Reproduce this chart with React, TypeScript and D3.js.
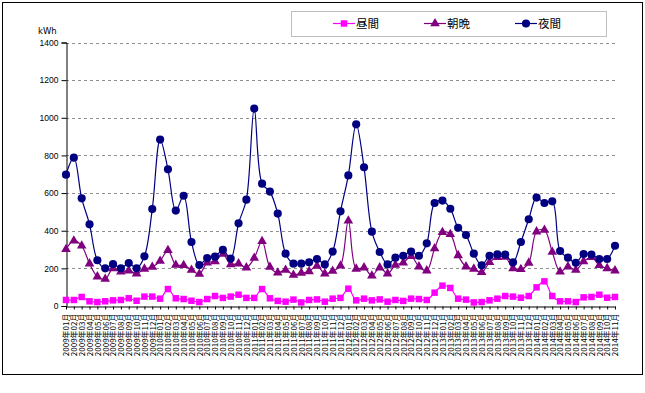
import React, { useEffect, useRef } from 'react';
import * as d3 from 'd3';

// monthly kWh, 2009-01 .. 2014-11
const years = ['2009', '2010', '2011', '2012', '2013', '2014'];
const monthNames = ['01', '02', '03', '04', '05', '06', '07', '08', '09', '10', '11', '12'];
const seriesNames = ['昼間', '朝晩', '夜間'];
const yTicks = [0, 200, 400, 600, 800, 1000, 1200, 1400];

const daytime = [32, 32, 48, 25, 21, 25, 30, 32, 41, 28, 50, 50, 39, 90, 41, 37, 28, 21,
  37, 53, 43, 50, 60, 43, 43, 90, 41, 27, 23, 34, 19, 32, 35, 23, 39, 43,
  92, 30, 39, 30, 35, 23, 32, 27, 39, 37, 32, 71, 108, 96, 39, 34, 19, 21,
  30, 39, 53, 50, 44, 53, 99, 131, 53, 25, 25, 21, 46, 48, 60, 44, 48];
const morningEvening = [301, 347, 320, 225, 156, 143, 200, 182, 188, 172, 197, 207, 239, 296, 218, 216, 191, 170,
  230, 237, 276, 221, 225, 204, 255, 344, 207, 177, 191, 165, 175, 184, 213, 172, 186, 214,
  453, 197, 204, 161, 204, 172, 218, 230, 264, 209, 188, 305, 392, 381, 269, 209, 197, 179,
  232, 259, 260, 200, 195, 229, 395, 404, 287, 182, 209, 191, 237, 259, 216, 200, 188];
const night = [698, 788, 572, 434, 243, 200, 223, 200, 228, 200, 264, 515, 884, 726, 507, 586, 340, 218,
  255, 262, 298, 252, 439, 565, 1049, 650, 608, 491, 278, 225, 225, 232, 250, 221, 289, 503,
  694, 965, 737, 395, 287, 221, 257, 267, 289, 267, 333, 547, 560, 517, 416, 377, 278, 216,
  267, 274, 273, 232, 340, 461, 576, 547, 556, 292, 257, 230, 276, 273, 250, 250, 320];

const labels: string[] = [];
years.forEach(y => monthNames.forEach(m => labels.push(y + '年' + m + '月')));
const categories = labels.slice(0, night.length);

const colors = ['#FF00FF', '#800080', '#000080'];
const shapes = [d3.symbolSquare, d3.symbolTriangle, d3.symbolCircle];
const sizes = [42, 40, 52];

export default function App() {
  const ref = useRef<SVGSVGElement>(null);

  useEffect(() => {
    const svg = d3.select(ref.current);
    svg.selectAll('*').remove();

    const left = 66, right = 615, top = 42.5, bottom = 306;

    // outer frame
    svg.append('rect')
      .attr('x', 2.5).attr('y', 2.5).attr('width', 640).attr('height', 372)
      .attr('fill', '#fff').attr('stroke', '#000').attr('stroke-width', 1);

    const x = d3.scalePoint<string>().domain(categories).range([left, right]).padding(0);
    const y = d3.scaleLinear().domain([0, 1400]).range([bottom, top]);

    // grid
    svg.append('g')
      .selectAll('line')
      .data(yTicks.filter(d => d > 0))
      .enter()
      .append('line')
      .attr('x1', left).attr('x2', right)
      .attr('y1', d => Math.round(y(d)) + 0.5).attr('y2', d => Math.round(y(d)) + 0.5)
      .attr('stroke', '#909090')
      .attr('stroke-dasharray', '3,3');

    // y axis
    const yAxis = d3.axisLeft(y).tickValues(yTicks).tickFormat(d3.format('d')).tickSize(5).tickPadding(3);
    const gy = svg.append('g').attr('transform', 'translate(' + (left + 0.5) + ',0)').call(yAxis);
    gy.select('.domain').attr('stroke', '#000');
    gy.selectAll('text')
      .attr('font-family', '"Liberation Sans", Arial, sans-serif')
      .attr('font-size', '8.5px')
      .attr('fill', '#000');

    svg.append('text')
      .attr('x', 38).attr('y', 34)
      .attr('font-family', '"DejaVu Sans", Verdana, sans-serif')
      .attr('font-size', '8.5px')
      .text('kWh');

    // x axis
    const xAxis = d3.axisBottom(x).tickSize(3).tickSizeOuter(0).tickPadding(4);
    const gx = svg.append('g').attr('transform', 'translate(0,' + (bottom + 0.5) + ')').call(xAxis);
    gx.select('.domain').attr('stroke', '#000');
    gx.selectAll('text')
      .attr('font-family', '"Noto Sans CJK JP", sans-serif')
      .attr('font-size', '8px')
      .attr('fill', '#000')
      .attr('text-anchor', 'end')
      .attr('transform', 'rotate(-90)')
      .attr('x', -7)
      .attr('y', 0)
      .attr('dy', '0.35em');

    const allSeries = [daytime, morningEvening, night];
    const line = d3.line<number>()
      .x((d, i) => x(categories[i]) as number)
      .y(d => y(d))
      .curve(d3.curveCatmullRom.alpha(0.5));

    allSeries.forEach((vals, s) => {
      svg.append('path')
        .datum(vals)
        .attr('d', line)
        .attr('fill', 'none')
        .attr('stroke', colors[s])
        .attr('stroke-width', 1.2);

      svg.append('g')
        .selectAll('path')
        .data(vals)
        .enter()
        .append('path')
        .attr('d', d3.symbol().type(shapes[s]).size(sizes[s]))
        .attr('transform', (d, i) => 'translate(' + x(categories[i]) + ',' + y(d) + ')')
        .attr('fill', colors[s]);
    });

    // legend
    svg.append('rect')
      .attr('x', 291.5).attr('y', 11.5).attr('width', 315).attr('height', 25)
      .attr('fill', '#fff').attr('stroke', '#BFBFBF');

    const legendX = [333, 424, 515];
    seriesNames.forEach((name, s) => {
      const g = svg.append('g').attr('transform', 'translate(' + legendX[s] + ',23.5)');
      g.append('line').attr('x1', 0).attr('x2', 22).attr('stroke', colors[s]).attr('stroke-width', 1.2);
      g.append('path')
        .attr('d', d3.symbol().type(shapes[s]).size(sizes[s]))
        .attr('transform', 'translate(11,0)')
        .attr('fill', colors[s]);
      g.append('text')
        .attr('x', 23).attr('y', 0).attr('dy', '0.38em')
        .attr('font-family', '"Noto Sans CJK JP", sans-serif')
        .attr('font-size', '11.5px')
        .attr('fill', '#000')
        .text(name);
    });
  }, []);

  return (
    <svg ref={ref} width={645} height={393}
      style={{ position: 'absolute', left: 0, top: 0, background: '#fff' }} />
  );
}
